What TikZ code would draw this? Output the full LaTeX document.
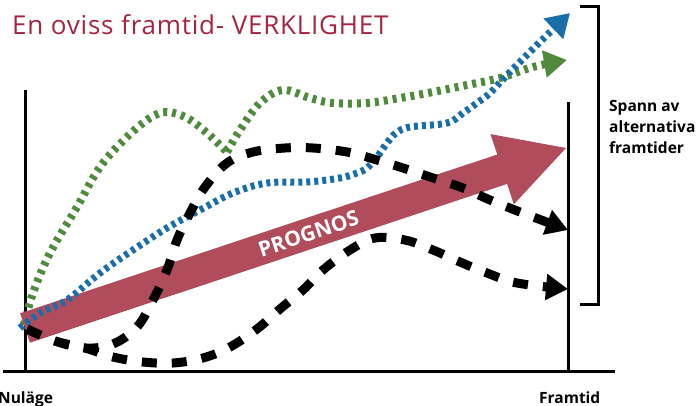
\documentclass[tikz,border=0pt]{standalone}
\usepackage{fontspec}
\setmainfont{Open Sans}
\usetikzlibrary{arrows.meta}
\definecolor{titlered}{RGB}{166,36,66}
\definecolor{progred}{RGB}{176,76,92}
\definecolor{altgreen}{RGB}{80,138,60}
\definecolor{altblue}{RGB}{24,110,168}
\tikzset{
  axisline/.style={line width=3pt, black},
  blackalt/.style={line width=9pt, black, dash pattern=on 15pt off 15pt, -{Triangle[length=22pt,width=25pt]}},
  greenalt/.style={line width=8pt, altgreen, dash pattern=on 4pt off 5pt},
  bluealt/.style={line width=7pt, altblue, dash pattern=on 4pt off 4pt, -{Triangle[length=23pt,width=27pt]}},
  lbl/.style={font=\fontsize{15.5}{18}\selectfont\bfseries, inner sep=0pt},
}
\begin{document}
\begin{tikzpicture}[x=1pt,y=-1pt]
\useasboundingbox (0,0) rectangle (697,406);
% title
\node[anchor=base west, inner sep=0pt, text=titlered, font=\fontsize{26}{28}\selectfont\addfontfeature{LetterSpace=3.0}] (title) at (12,35) {En oviss framtid- VERKLIGHET};
% axes
\coordinate (xl) at (3,372);
\coordinate (xr) at (615,372);
\coordinate (ytop) at (25,90);
\coordinate (ybot) at (25,372);
\coordinate (ftop) at (568,102);
\coordinate (fbot) at (568,372);
\draw[axisline] (xl) -- (xr);
\draw[axisline] (ytop) -- (ybot);
\draw[axisline] (ftop) -- (fbot);
% bracket
\coordinate (b1) at (580,7);
\coordinate (b2) at (598,7);
\coordinate (b3) at (598,305);
\coordinate (b4) at (580,305);
\draw[axisline, line cap=butt, line join=miter] (b1) -- (b2) -- (b3) -- (b4);
% green
\draw[greenalt] plot[smooth, tension=0.6] coordinates {(24,325) (33,293) (50,253) (77,207) (100,167) (127,137) (150,118) (167,112) (187,118) (207,133) (227,152)};
\draw[greenalt, -{Triangle[length=23pt,width=26pt]}] plot[smooth, tension=0.6] coordinates {(227,152) (240,130) (260,103) (283,90) (310,98) (333,103) (367,103) (400,98) (433,92) (467,85) (500,78) (533,67) (567,60)};
% prognos arrow
\coordinate (S) at (25,328);
\coordinate (T) at (566,148);
\fill[progred] (20.1,313.3) -- (29.9,342.7) -- (507.1,183.9) -- (513.9,204.3) -- (T) -- (490.5,134.1) -- (497.3,154.5) -- cycle;
\path (S) -- (T) node[pos=0.524, sloped, text=white, inner sep=0pt, font=\fontsize{21}{24}\selectfont\bfseries] (prog) {PROGNOS};
% blue
\draw[bluealt] plot[smooth, tension=0.6] coordinates {(20,328) (40,313) (67,300) (100,273) (133,250) (167,228) (200,210) (233,193) (267,183) (307,182) (340,178) (357,173) (367,168) (377,157) (387,143) (396,133) (410,127) (447,123) (463,113) (477,103) (490,93) (510,72) (542,40) (570,13)};
% black
\draw[blackalt] plot[smooth, tension=0.6] coordinates {(27,329) (55,341) (85,348) (113,344) (137,327) (153,300) (167,270) (177,240) (190,213) (205,187) (227,163) (253,152) (285,148) (313,148) (347,152) (377,160) (403,168) (433,178) (463,188) (490,200) (520,212) (568,230)};
\draw[blackalt] plot[smooth, tension=0.6] coordinates {(27,329) (55,341) (85,348) (113,357) (143,362) (173,363) (203,358) (230,347) (257,329) (280,309) (303,290) (323,270) (350,250) (375,238) (405,240) (433,250) (460,262) (487,273) (517,283) (568,289)};
% labels
\node[lbl, anchor=base west] (nu) at (-2,403) {Nuläge};
\node[lbl, anchor=base west] (fr) at (539,403) {Framtid};
\node[lbl, anchor=base west, align=left] (span) at (609,154) {Spann av\\[3pt]alternativa\\[3pt]framtider};
\end{tikzpicture}
\end{document}
